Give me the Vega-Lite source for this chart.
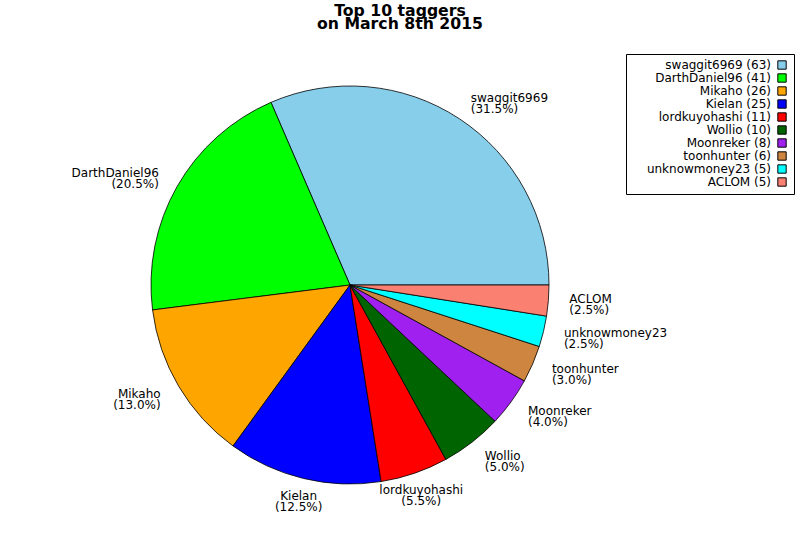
{
  "$schema": "https://vega.github.io/schema/vega-lite/v6.json",
  "width": 700,
  "height": 570,
  "padding": {"left": 0, "right": 100, "top": 0, "bottom": 0},
  "autosize": {"type": "none"},
  "background": "white",
  "title": {
    "text": ["Top 10 taggers", "on March 8th 2015"],
    "font": "DejaVu Sans",
    "fontSize": 15.7,
    "fontWeight": "bold",
    "lineHeight": 13,
    "anchor": "middle",
    "frame": "group",
    "dx": 50,
    "offset": -33,
    "color": "black"
  },
  "data": {
    "values": [
      {"rank": 1, "name": "swaggit6969", "count": 63, "label": "swaggit6969\n(31.5%)", "legend": "swaggit6969 (63)"},
      {"rank": 2, "name": "DarthDaniel96", "count": 41, "label": "DarthDaniel96\n(20.5%)", "legend": "DarthDaniel96 (41)"},
      {"rank": 3, "name": "Mikaho", "count": 26, "label": "Mikaho\n(13.0%)", "legend": "Mikaho (26)"},
      {"rank": 4, "name": "Kielan", "count": 25, "label": "Kielan\n(12.5%)", "legend": "Kielan (25)"},
      {"rank": 5, "name": "lordkuyohashi", "count": 11, "label": "lordkuyohashi\n(5.5%)", "legend": "lordkuyohashi (11)"},
      {"rank": 6, "name": "Wollio", "count": 10, "label": "Wollio\n(5.0%)", "legend": "Wollio (10)"},
      {"rank": 7, "name": "Moonreker", "count": 8, "label": "Moonreker\n(4.0%)", "legend": "Moonreker (8)"},
      {"rank": 8, "name": "toonhunter", "count": 6, "label": "toonhunter\n(3.0%)", "legend": "toonhunter (6)"},
      {"rank": 9, "name": "unknowmoney23", "count": 5, "label": "unknowmoney23\n(2.5%)", "legend": "unknowmoney23 (5)"},
      {"rank": 10, "name": "ACLOM", "count": 5, "label": "ACLOM\n(2.5%)", "legend": "ACLOM (5)"}
    ]
  },
  "encoding": {
    "theta": {
      "field": "count",
      "type": "quantitative",
      "stack": true,
      "scale": {"range": [1.5707963, -4.712389]}
    },
    "order": {"field": "rank", "type": "quantitative"}
  },
  "layer": [
    {
      "mark": {"type": "arc", "radius": 199, "stroke": "black", "strokeWidth": 0.8},
      "encoding": {
        "color": {
          "field": "legend",
          "type": "nominal",
          "scale": {
            "domain": ["swaggit6969 (63)", "DarthDaniel96 (41)", "Mikaho (26)", "Kielan (25)", "lordkuyohashi (11)", "Wollio (10)", "Moonreker (8)", "toonhunter (6)", "unknowmoney23 (5)", "ACLOM (5)"],
            "range": ["#87CEEB", "#00FF00", "#FFA500", "#0000FF", "#FF0000", "#006400", "#A020F0", "#CD853F", "#00FFFF", "#FA8072"]
          },
          "legend": {
            "title": null,
            "orient": "none",
            "legendX": 626,
            "legendY": 54,
            "padding": 5,
            "strokeColor": "black",
            "fillColor": "white",
            "symbolType": "square",
            "symbolSize": 70,
            "symbolStrokeColor": "black",
            "symbolStrokeWidth": 1,
            "symbolOffset": 145,
            "labelFont": "DejaVu Sans",
            "labelFontSize": 12,
            "labelColor": "black",
            "labelAlign": "right",
            "labelOffset": -17,
            "rowPadding": -5
          }
        }
      }
    },
    {
      "mark": {
        "type": "text",
        "radius": 220,
        "dy": -3,
        "align": {"expr": "indexof(['DarthDaniel96', 'Mikaho'], datum.name) >= 0 ? 'right' : (indexof(['Kielan', 'lordkuyohashi'], datum.name) >= 0 ? 'center' : 'left')"},
        "baseline": "middle",
        "lineBreak": "\n",
        "lineHeight": 11,
        "font": "DejaVu Sans",
        "fontSize": 12,
        "color": "black"
      },
      "encoding": {"text": {"field": "label"}}
    }
  ]
}
